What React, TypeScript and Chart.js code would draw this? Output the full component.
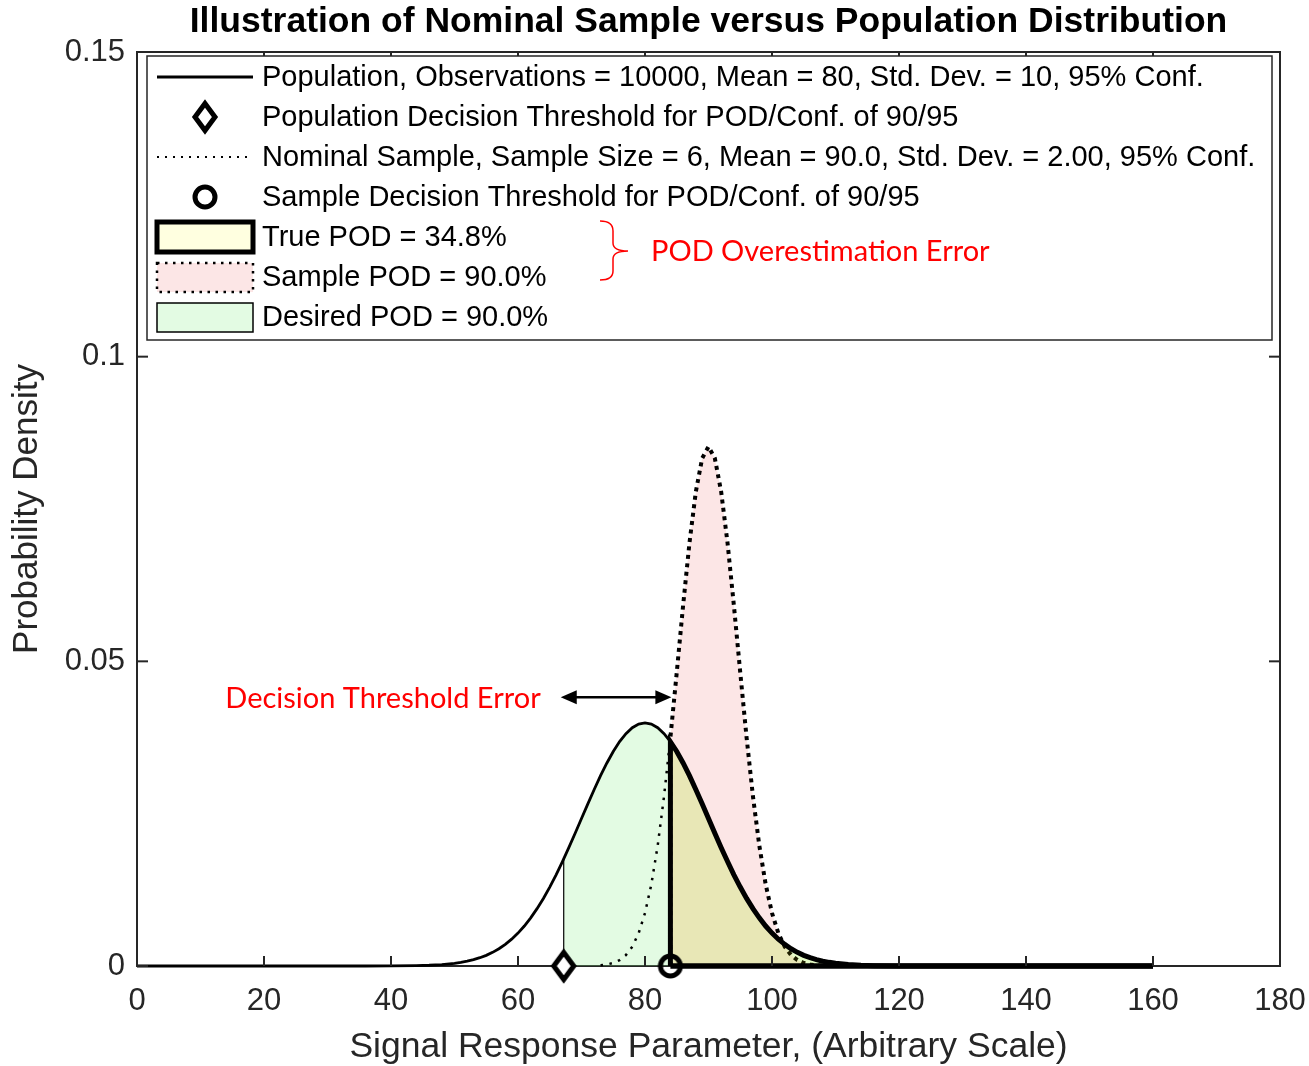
import React, { useEffect, useRef } from 'react';
import { Chart, registerables } from 'chart.js';

Chart.register(...registerables);

// ---------- text ----------
const TITLE = 'Illustration of Nominal Sample versus Population Distribution';
const X_TITLE = 'Signal Response Parameter, (Arbitrary Scale)';
const Y_TITLE = 'Probability Density';
const OVERESTIMATION_NOTE = 'POD Overestimation Error';
const THRESHOLD_NOTE = 'Decision Threshold Error';

const legendLabels = [
  'Population, Observations = 10000, Mean = 80, Std. Dev. = 10, 95% Conf.',
  'Population Decision Threshold for POD/Conf. of 90/95',
  'Nominal Sample, Sample Size = 6, Mean = 90.0, Std. Dev. = 2.00, 95% Conf.',
  'Sample Decision Threshold for POD/Conf. of 90/95',
  'True POD = 34.8%',
  'Sample POD = 90.0%',
  'Desired POD = 90.0%',
];

// ---------- axes ----------
const xTicks = [0, 20, 40, 60, 80, 100, 120, 140, 160, 180];
const yTicks = [0, 0.05, 0.1, 0.15];
const yTickLabels = ['0', '0.05', '0.1', '0.15'];

// ---------- population density curve ----------
const popX = [
  0, 10, 20, 30, 36, 40, 44, 46, 48, 50,
  51, 52, 53, 54, 55, 56, 57, 58, 59, 60,
  61, 62, 63, 64, 65, 66, 67, 68, 69, 70,
  71, 72, 73, 74, 75, 76, 77, 78, 79, 80,
  81, 82, 83, 84, 85, 86, 87, 88, 89, 90,
  91, 92, 93, 94, 95, 96, 97, 98, 99, 100,
  101, 102, 103, 104, 105, 106, 107, 108, 109, 110,
  112, 114, 116, 120, 124, 130, 140, 150, 160,
];
const popY = [
  0, 0, 0, 0, 0, 0.00001, 0.00006, 0.00012, 0.00024, 0.00044,
  0.0006, 0.00079, 0.00104, 0.00136, 0.00175, 0.00224, 0.00283, 0.00355, 0.0044, 0.0054,
  0.00656, 0.0079, 0.00941, 0.01109, 0.01295, 0.01497, 0.01714, 0.01942, 0.02178, 0.0242,
  0.02661, 0.02897, 0.03123, 0.03332, 0.03521, 0.03683, 0.03814, 0.0391, 0.0397, 0.03989,
  0.0397, 0.0391, 0.03814, 0.03683, 0.03521, 0.03332, 0.03123, 0.02897, 0.02661, 0.0242,
  0.02178, 0.01942, 0.01714, 0.01497, 0.01295, 0.01109, 0.00941, 0.0079, 0.00656, 0.0054,
  0.0044, 0.00355, 0.00283, 0.00224, 0.00175, 0.00136, 0.00104, 0.00079, 0.0006, 0.00044,
  0.00024, 0.00012, 0.00006, 0.00001, 0, 0, 0, 0, 0,
];

// ---------- nominal sample density curve ----------
const sampleX = [
  73, 74, 75, 76, 77, 78, 79, 80, 81, 82,
  83, 84, 85, 86, 87, 88, 89, 90, 91, 92,
  93, 94, 95, 96, 97, 98, 99, 100, 101, 102,
  103, 104, 105, 106, 107, 108, 109, 110, 112, 114,
];
const sampleY = [
  0.00012, 0.00025, 0.0005, 0.00097, 0.0018, 0.00318, 0.00538, 0.00869, 0.01341, 0.01977,
  0.02785, 0.03747, 0.04817, 0.05915, 0.06941, 0.0778, 0.08332, 0.08524, 0.08332, 0.0778,
  0.06941, 0.05915, 0.04817, 0.03747, 0.02785, 0.01977, 0.01341, 0.00869, 0.00538, 0.00318,
  0.0018, 0.00097, 0.0005, 0.00025, 0.00012, 0.00005, 0.00002, 0.00001, 0, 0,
];

// ---------- decision thresholds ----------
const POP_THRESHOLD = 67.2;
const POP_DENSITY_AT_POP_THRESHOLD = 0.0176;
const SAMPLE_THRESHOLD = 84.0;
const POP_DENSITY_AT_SAMPLE_THRESHOLD = 0.0368;
const SAMPLE_DENSITY_AT_SAMPLE_THRESHOLD = 0.0375;
const THRESHOLD_ARROW_LEVEL = 0.0441;

// ---------- styling ----------
const AXIS_COLOR = '#262626';
const FONT = '"Liberation Sans", Arial, Helvetica, sans-serif';
const NOTE_FONT = 'Lato, "Open Sans", sans-serif';
const GREEN_FILL = 'rgba(144, 238, 144, 0.25)';
const PINK_FILL = 'rgba(240, 128, 128, 0.2)';
const YELLOW_FILL = 'rgba(255, 255, 0, 0.12)';

type Pt = { x: number; y: number };

function makeDiamond(): HTMLCanvasElement {
  const c = document.createElement('canvas');
  c.width = 32;
  c.height = 42;
  const g = c.getContext('2d')!;
  g.beginPath();
  g.moveTo(16, 7.5);
  g.lineTo(26, 21);
  g.lineTo(16, 34.5);
  g.lineTo(6, 21);
  g.closePath();
  g.fillStyle = '#ffffff';
  g.fill();
  g.lineWidth = 5;
  g.strokeStyle = '#000000';
  g.stroke();
  return c;
}

function makeRing(): HTMLCanvasElement {
  const c = document.createElement('canvas');
  c.width = 30;
  c.height = 30;
  const g = c.getContext('2d')!;
  g.beginPath();
  g.arc(15, 15, 10, 0, Math.PI * 2);
  g.lineWidth = 5;
  g.strokeStyle = '#000000';
  g.stroke();
  return c;
}

export default function App() {
  const canvasRef = useRef<HTMLCanvasElement | null>(null);

  useEffect(() => {
    const canvas = canvasRef.current;
    if (!canvas) return;

    const diamond = makeDiamond();
    const ring = makeRing();

    const popPoints: Pt[] = popX.map((x, i) => ({ x, y: popY[i] }));
    const samplePoints: Pt[] = sampleX.map((x, i) => ({ x, y: sampleY[i] }));
    const popEnd = popX[popX.length - 1];

    const desiredRegion: Pt[] = [
      { x: POP_THRESHOLD, y: 0 },
      { x: POP_THRESHOLD, y: POP_DENSITY_AT_POP_THRESHOLD },
      ...popPoints.filter((p) => p.x > POP_THRESHOLD),
    ];
    const trueRegion: Pt[] = [
      { x: SAMPLE_THRESHOLD, y: 0 },
      { x: SAMPLE_THRESHOLD, y: POP_DENSITY_AT_SAMPLE_THRESHOLD },
      ...popPoints.filter((p) => p.x > SAMPLE_THRESHOLD),
    ];
    const sampleRegion: Pt[] = [
      { x: SAMPLE_THRESHOLD, y: 0 },
      { x: SAMPLE_THRESHOLD, y: SAMPLE_DENSITY_AT_SAMPLE_THRESHOLD },
      ...samplePoints.filter((p) => p.x > SAMPLE_THRESHOLD),
    ];
    const sampleLower: Pt[] = samplePoints.filter((p) => p.x <= SAMPLE_THRESHOLD);
    const trueBase: Pt[] = [
      { x: SAMPLE_THRESHOLD, y: 0 },
      { x: popEnd, y: 0 },
    ];

    const line = (ctx: CanvasRenderingContext2D, x1: number, y1: number, x2: number, y2: number) => {
      ctx.beginPath();
      ctx.moveTo(x1, y1);
      ctx.lineTo(x2, y2);
      ctx.stroke();
    };

    const framePlugin = {
      id: 'frameBox',
      beforeDatasetsDraw(chart: any) {
        const { ctx, chartArea } = chart;
        ctx.save();
        ctx.strokeStyle = AXIS_COLOR;
        ctx.lineWidth = 2;
        ctx.strokeRect(chartArea.left, chartArea.top, chartArea.right - chartArea.left, chartArea.bottom - chartArea.top);
        ctx.restore();
      },
      afterDatasetsDraw(chart: any) {
        const { ctx, chartArea, scales } = chart;
        const { left, right, top, bottom } = chartArea;
        ctx.save();
        ctx.strokeStyle = AXIS_COLOR;
        ctx.lineWidth = 2;
        xTicks.forEach((v) => {
          const px = scales.x.getPixelForValue(v);
          line(ctx, px, bottom, px, bottom - 10);
          line(ctx, px, top, px, top + 10);
        });
        yTicks.forEach((v) => {
          const py = scales.y.getPixelForValue(v);
          line(ctx, left, py, left + 11, py);
          line(ctx, right, py, right - 11, py);
        });
        ctx.restore();
      },
    };

    const overlayPlugin = {
      id: 'overlay',
      afterDraw(chart: any) {
        const { ctx, chartArea, scales } = chart;
        ctx.save();

        // title
        ctx.fillStyle = '#000000';
        ctx.font = `bold 35.5px ${FONT}`;
        ctx.textAlign = 'center';
        ctx.textBaseline = 'middle';
        ctx.fillText(TITLE, (chartArea.left + chartArea.right) / 2, 22);

        // threshold-error arrow between the two decision thresholds
        const ax1 = scales.x.getPixelForValue(POP_THRESHOLD);
        const ax2 = scales.x.getPixelForValue(SAMPLE_THRESHOLD);
        const ay = scales.y.getPixelForValue(THRESHOLD_ARROW_LEVEL);
        ctx.strokeStyle = '#000000';
        ctx.fillStyle = '#000000';
        ctx.lineWidth = 2.5;
        line(ctx, ax1 + 8, ay, ax2 - 8, ay);
        ctx.beginPath();
        ctx.moveTo(ax1 - 3, ay);
        ctx.lineTo(ax1 + 13, ay - 7);
        ctx.lineTo(ax1 + 13, ay + 7);
        ctx.closePath();
        ctx.fill();
        ctx.beginPath();
        ctx.moveTo(ax2 + 1, ay);
        ctx.lineTo(ax2 - 15, ay - 7);
        ctx.lineTo(ax2 - 15, ay + 7);
        ctx.closePath();
        ctx.fill();

        ctx.fillStyle = '#ff0000';
        ctx.font = `29px ${NOTE_FONT}`;
        ctx.textAlign = 'right';
        ctx.textBaseline = 'middle';
        ctx.fillText(THRESHOLD_NOTE, ax1 - 23, ay + 1);

        // legend box
        const lx = 147;
        const ly = 56;
        const lw = 1272 - 147;
        const lh = 340 - 56;
        ctx.fillStyle = '#ffffff';
        ctx.fillRect(lx, ly, lw, lh);
        ctx.strokeStyle = AXIS_COLOR;
        ctx.lineWidth = 1.5;
        ctx.strokeRect(lx, ly, lw, lh);

        const rowY = (i: number) => 77 + i * 40;
        const sx1 = 157;
        const sx2 = 253;
        const sxc = (sx1 + sx2) / 2;

        // row 0: population line
        ctx.strokeStyle = '#000000';
        ctx.lineWidth = 2.8;
        line(ctx, sx1, rowY(0), sx2, rowY(0));
        // row 1: population threshold marker
        ctx.drawImage(diamond, sxc - diamond.width / 2, rowY(1) - diamond.height / 2);
        // row 2: sample line
        ctx.lineWidth = 2;
        ctx.setLineDash([2, 6]);
        line(ctx, sx1, rowY(2), sx2, rowY(2));
        ctx.setLineDash([]);
        // row 3: sample threshold marker
        ctx.drawImage(ring, sxc - ring.width / 2, rowY(3) - ring.height / 2);
        // row 4: true POD patch
        ctx.fillStyle = YELLOW_FILL;
        ctx.fillRect(sx1, rowY(4) - 15, sx2 - sx1, 30);
        ctx.lineWidth = 5;
        ctx.strokeStyle = '#000000';
        ctx.strokeRect(sx1, rowY(4) - 15, sx2 - sx1, 30);
        // row 5: sample POD patch
        ctx.fillStyle = PINK_FILL;
        ctx.fillRect(sx1, rowY(5) - 14, sx2 - sx1, 29);
        ctx.lineWidth = 2.5;
        ctx.setLineDash([2.5, 5.5]);
        ctx.strokeRect(sx1, rowY(5) - 14, sx2 - sx1, 29);
        ctx.setLineDash([]);
        // row 6: desired POD patch
        ctx.fillStyle = GREEN_FILL;
        ctx.fillRect(sx1, rowY(6) - 14, sx2 - sx1, 29);
        ctx.lineWidth = 1.5;
        ctx.strokeRect(sx1, rowY(6) - 14, sx2 - sx1, 29);

        ctx.fillStyle = '#000000';
        ctx.font = `29px ${FONT}`;
        ctx.textAlign = 'left';
        ctx.textBaseline = 'middle';
        legendLabels.forEach((t, i) => ctx.fillText(t, 262, rowY(i) + 1));

        // brace grouping the two POD entries
        ctx.strokeStyle = '#ff0000';
        ctx.lineWidth = 1.5;
        ctx.beginPath();
        ctx.moveTo(600, 221);
        ctx.quadraticCurveTo(613, 221, 613, 231);
        ctx.lineTo(613, 243);
        ctx.quadraticCurveTo(613, 251, 628, 251);
        ctx.quadraticCurveTo(613, 251, 613, 259);
        ctx.lineTo(613, 271);
        ctx.quadraticCurveTo(613, 280, 600, 280);
        ctx.stroke();

        ctx.fillStyle = '#ff0000';
        ctx.font = `29px ${NOTE_FONT}`;
        ctx.textAlign = 'left';
        ctx.fillText(OVERESTIMATION_NOTE, 651, 252);

        ctx.restore();
      },
    };

    const chart = new Chart(canvas, {
      type: 'line',
      data: {
        datasets: [
          {
            label: 'Sample Decision Threshold',
            data: [{ x: SAMPLE_THRESHOLD, y: 0 }],
            pointStyle: ring,
            pointRadius: 12,
            showLine: false,
            clip: false,
            order: 0,
          } as any,
          {
            label: 'Population Decision Threshold',
            data: [{ x: POP_THRESHOLD, y: 0 }],
            pointStyle: diamond,
            pointRadius: 12,
            showLine: false,
            clip: false,
            order: 1,
          } as any,
          {
            label: 'True POD base',
            data: trueBase,
            borderColor: '#000000',
            borderWidth: 5.5,
            pointRadius: 0,
            fill: false,
            clip: false,
            order: 2,
          },
          {
            label: 'True POD',
            data: trueRegion,
            borderColor: '#000000',
            borderWidth: 5,
            backgroundColor: YELLOW_FILL,
            pointRadius: 0,
            fill: 'origin',
            clip: false,
            order: 3,
          },
          {
            label: 'Population',
            data: popPoints,
            borderColor: '#000000',
            borderWidth: 2.8,
            pointRadius: 0,
            fill: false,
            clip: false,
            order: 4,
          },
          {
            label: 'Nominal Sample',
            data: sampleLower,
            borderColor: '#000000',
            borderWidth: 2.5,
            borderDash: [2.5, 6.5],
            pointRadius: 0,
            fill: false,
            clip: false,
            order: 5,
          },
          {
            label: 'Sample POD',
            data: sampleRegion,
            borderColor: '#000000',
            borderWidth: 4,
            borderDash: [4, 4.5],
            backgroundColor: PINK_FILL,
            pointRadius: 0,
            fill: 'origin',
            clip: false,
            order: 6,
          },
          {
            label: 'Desired POD',
            data: desiredRegion,
            borderColor: '#000000',
            borderWidth: 1.2,
            backgroundColor: GREEN_FILL,
            pointRadius: 0,
            fill: 'origin',
            clip: false,
            order: 7,
          },
        ],
      },
      options: {
        responsive: false,
        animation: false,
        events: [],
        layout: { padding: { left: 0, right: 29, top: 52, bottom: 0 } },
        plugins: {
          legend: { display: false },
          tooltip: { enabled: false },
          title: { display: false },
        },
        scales: {
          x: {
            type: 'linear',
            min: 0,
            max: 180,
            grid: { display: false, drawTicks: false },
            border: { display: false },
            afterBuildTicks: (s: any) => {
              s.ticks = xTicks.map((v) => ({ value: v }));
            },
            afterFit: (s: any) => {
              s.height = 100;
              s.paddingLeft = 0;
              s.paddingRight = 0;
            },
            ticks: {
              autoSkip: false,
              maxRotation: 0,
              padding: 17,
              color: AXIS_COLOR,
              font: { family: FONT, size: 31 },
              callback: (v: any) => String(v),
            },
            title: {
              display: true,
              text: X_TITLE,
              color: AXIS_COLOR,
              font: { family: FONT, size: 35.5, lineHeight: 1 },
              padding: { top: 0, bottom: 1 },
            },
          },
          y: {
            type: 'linear',
            min: 0,
            max: 0.15,
            grid: { display: false, drawTicks: false },
            border: { display: false },
            afterBuildTicks: (s: any) => {
              s.ticks = yTicks.map((v) => ({ value: v }));
            },
            afterFit: (s: any) => {
              s.width = 137;
              s.paddingTop = 0;
              s.paddingBottom = 0;
            },
            ticks: {
              autoSkip: false,
              padding: 12,
              color: AXIS_COLOR,
              font: { family: FONT, size: 31 },
              callback: (v: any) => {
                const i = yTicks.findIndex((t) => Math.abs(t - Number(v)) < 1e-9);
                return i >= 0 ? yTickLabels[i] : '';
              },
            },
            title: {
              display: true,
              text: Y_TITLE,
              color: AXIS_COLOR,
              font: { family: FONT, size: 35, lineHeight: 1 },
              padding: { top: 10, bottom: 0 },
            },
          },
        },
      },
      plugins: [framePlugin, overlayPlugin],
    });

    return () => chart.destroy();
  }, []);

  return (
    <div style={{ position: 'fixed', left: 0, top: 0, width: 1309, height: 1066, background: '#ffffff' }}>
      <canvas ref={canvasRef} width={1309} height={1066} style={{ display: 'block' }} />
    </div>
  );
}
